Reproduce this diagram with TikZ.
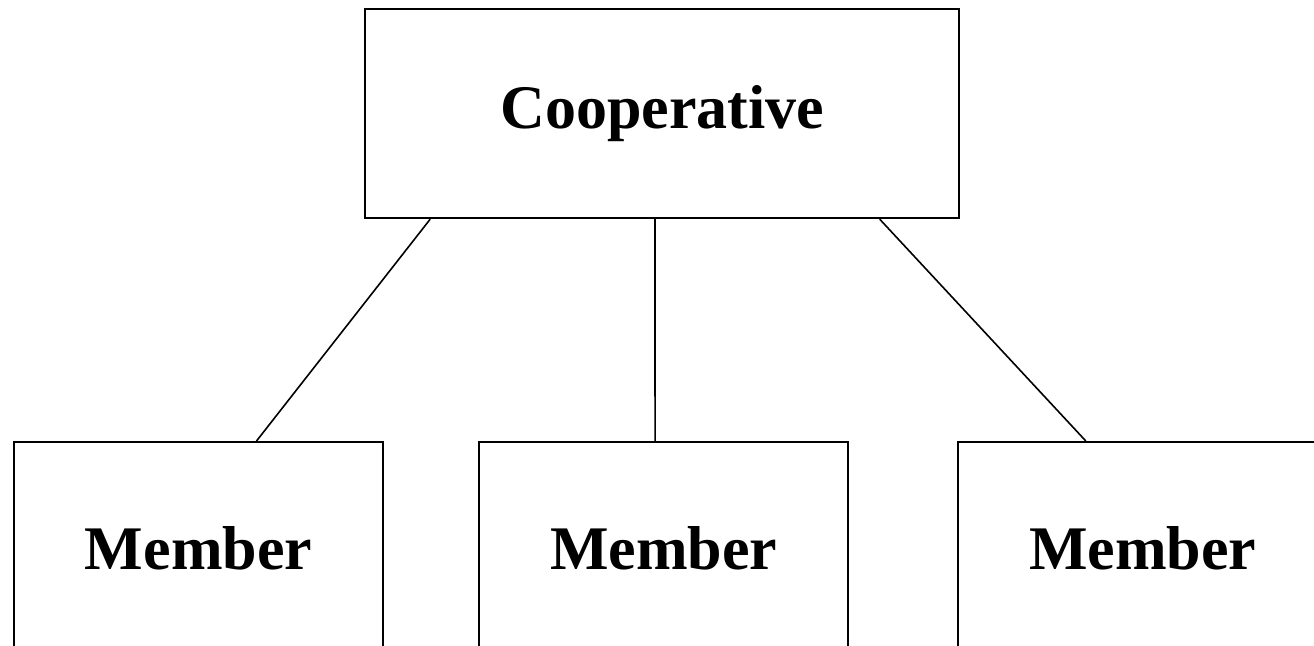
\documentclass[tikz,border=0pt]{standalone}
\usepackage{fontspec}
\setmainfont{Liberation Serif}
\usetikzlibrary{calc}
\begin{document}
\begin{tikzpicture}[x=1pt,y=-1pt,
  box/.style={draw, line width=2.2pt, rectangle, inner sep=0pt, anchor=north west,
    font=\fontsize{62}{70}\selectfont\bfseries},
  link/.style={draw, line width=1.6pt}]
\useasboundingbox (0,0) rectangle (1314,645);
\clip (0,0) rectangle (1314,645);
\node[box, minimum width=594pt, minimum height=209pt] (coop) at (364,8) {Cooperative};
\node[box, minimum width=369pt, minimum height=212pt] (m1) at (13,441) {Member};
\node[box, minimum width=369pt, minimum height=212pt] (m2) at (478,441) {Member};
\node[box, minimum width=369pt, minimum height=212pt] (m3) at (957,441) {Member};
\draw[link] ($(coop.south west)!0.111!(coop.south east)$) -- ($(m1.north west)!0.656!(m1.north east)$);
\draw[link] ($(coop.south west)!0.488!(coop.south east)$) -- ($(m2.north west)!0.477!(m2.north east)$);
\draw[link] ($(coop.south west)!0.865!(coop.south east)$) -- ($(m3.north west)!0.347!(m3.north east)$);
\end{tikzpicture}
\end{document}
